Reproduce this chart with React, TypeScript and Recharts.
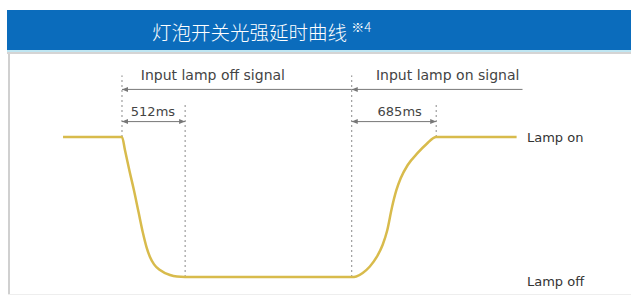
import React from 'react';
import {
  LineChart,
  Line,
  XAxis,
  YAxis,
  ReferenceLine,
  ReferenceDot
} from 'recharts';

// 时间 (ms) 与光强 (%)
const times = [-478, 0, 24, 60, 97, 135, 170, 200, 227, 260, 308, 389, 446, 512, 1863, 1900, 1952, 2010, 2066, 2114, 2150, 2190, 2225, 2260, 2317, 2398, 2470, 2548, 3200];
const intensity = [100, 100, 90.7, 76, 62, 46, 31.4, 21, 14.3, 9, 5, 1.4, 0.3, 0, 0, 0.4, 2.9, 7.5, 14.3, 23, 33, 50, 62, 70.5, 80, 88.6, 95, 100, 100];

const levelTicks = [0, 100];
const levelNames = ['Lamp off', 'Lamp on'];

// 虚线标记
const markTimes = [0, 512, 1863, 2548];
const markTops = [144, 124, 144, 124];
const markBottoms = [100, 0, 0, 100];

// 箭头
const arrowStarts = [0, 1863, 0, 1863];
const arrowEnds = [1863, 3248, 512, 2548];
const arrowLevels = [134, 134, 111, 111];
const arrowBoth = [false, false, true, true];

// 文字
const labelTexts = ['Input lamp off signal', 'Input lamp on signal', '512ms', '685ms'];
const labelTimes = [737, 2641, 251, 2252];
const labelLevels = [144.3, 144.3, 118, 118];
const labelSizes = [14, 14, 13, 13];

const data = times.map((t, i) => ({ t, v: intensity[i] }));

const CURVE = '#d8bb4c';
const GRAY = '#777';
const FONT = '"DejaVu Sans", Verdana, sans-serif';

const arrowShape = (both: boolean) => (props: any) => {
  const { x1, y1, x2, y2 } = props;
  const h = 6;
  const w = 2.5;
  return (
    <g>
      <line x1={x1} y1={y1} x2={x2} y2={y2} stroke={GRAY} strokeWidth={1} />
      <polygon points={`${x1},${y1} ${x1 + h},${y1 - w} ${x1 + h},${y1 + w}`} fill={GRAY} />
      {both && (
        <polygon points={`${x2},${y2} ${x2 - h},${y2 - w} ${x2 - h},${y2 + w}`} fill={GRAY} />
      )}
    </g>
  );
};

const LevelTick = (props: any) => {
  const { x, y, payload } = props;
  const idx = levelTicks.indexOf(payload.value);
  return (
    <text x={x - 5} y={y + (payload.value === 0 ? 4 : 0)} dy="0.35em" textAnchor="start" fill="#333" fontSize={13} fontFamily={FONT}>
      {levelNames[idx]}
    </text>
  );
};

const App: React.FC = () => {
  return (
    <div style={{ position: 'absolute', left: 0, top: 0, width: 631, height: 300, background: '#fff', fontFamily: FONT, overflow: 'hidden' }}>
      {/* 标题栏 */}
      <div style={{ position: 'absolute', left: 7, top: 10, width: 624, height: 40, background: '#0b6cbc' }} />
      <div style={{ position: 'absolute', left: 7, top: 50, width: 624, height: 2, background: '#bfe6f2' }} />
      <div style={{ position: 'absolute', left: 7, top: 52, width: 624, height: 2, background: '#d4d4d4' }} />
      <div style={{ position: 'absolute', left: 8, top: 54, width: 2, height: 240, background: '#d0d0d0' }} />
      <div style={{ position: 'absolute', left: 8, top: 294, width: 623, height: 1, background: '#eeeeee' }} />
      <div
        style={{
          position: 'absolute',
          left: 152,
          top: 19,
          color: '#fff',
          fontSize: 19.5,
          lineHeight: '26px',
          fontFamily: '"Noto Sans CJK SC", sans-serif',
          fontWeight: 300,
          whiteSpace: 'nowrap'
        }}
      >
        灯泡开关光强延时曲线 <sup style={{ fontSize: 13, verticalAlign: 'top', lineHeight: '16px' }}>※4</sup>
      </div>

      <div style={{ position: 'absolute', left: 0, top: 0 }}>
        <LineChart width={631} height={300} data={data} margin={{ top: 67, right: 9, bottom: 23, left: 48 }}>
          <XAxis dataKey="t" type="number" domain={[-600, 3260]} hide />
          <YAxis
            orientation="right"
            type="number"
            domain={[0, 150]}
            ticks={levelTicks}
            width={98}
            axisLine={false}
            tickLine={false}
            tick={<LevelTick />}
          />
          {markTimes.map((t, i) => (
            <ReferenceLine
              key={`m-${i}`}
              segment={[{ x: t, y: markBottoms[i] }, { x: t, y: markTops[i] }]}
              stroke="#8a8a8a"
              strokeDasharray="2 3"
              strokeWidth={1}
            />
          ))}
          {arrowStarts.map((s, i) => (
            <ReferenceLine
              key={`a-${i}`}
              segment={[{ x: s, y: arrowLevels[i] }, { x: arrowEnds[i], y: arrowLevels[i] }]}
              shape={arrowShape(arrowBoth[i])}
              ifOverflow="visible"
            />
          ))}
          {labelTexts.map((txt, i) => (
            <ReferenceDot
              key={`l-${i}`}
              x={labelTimes[i]}
              y={labelLevels[i]}
              r={0}
              ifOverflow="visible"
              shape={(p: any) => (
                <text x={p.cx} y={p.cy} dy="0.35em" textAnchor="middle" fill="#444" fontSize={labelSizes[i]} fontFamily={FONT}>
                  {txt}
                </text>
              )}
            />
          ))}
          <Line
            type="monotone"
            dataKey="v"
            stroke={CURVE}
            strokeWidth={2.5}
            dot={false}
            isAnimationActive={false}
          />
        </LineChart>
      </div>
    </div>
  );
};

export default App;
